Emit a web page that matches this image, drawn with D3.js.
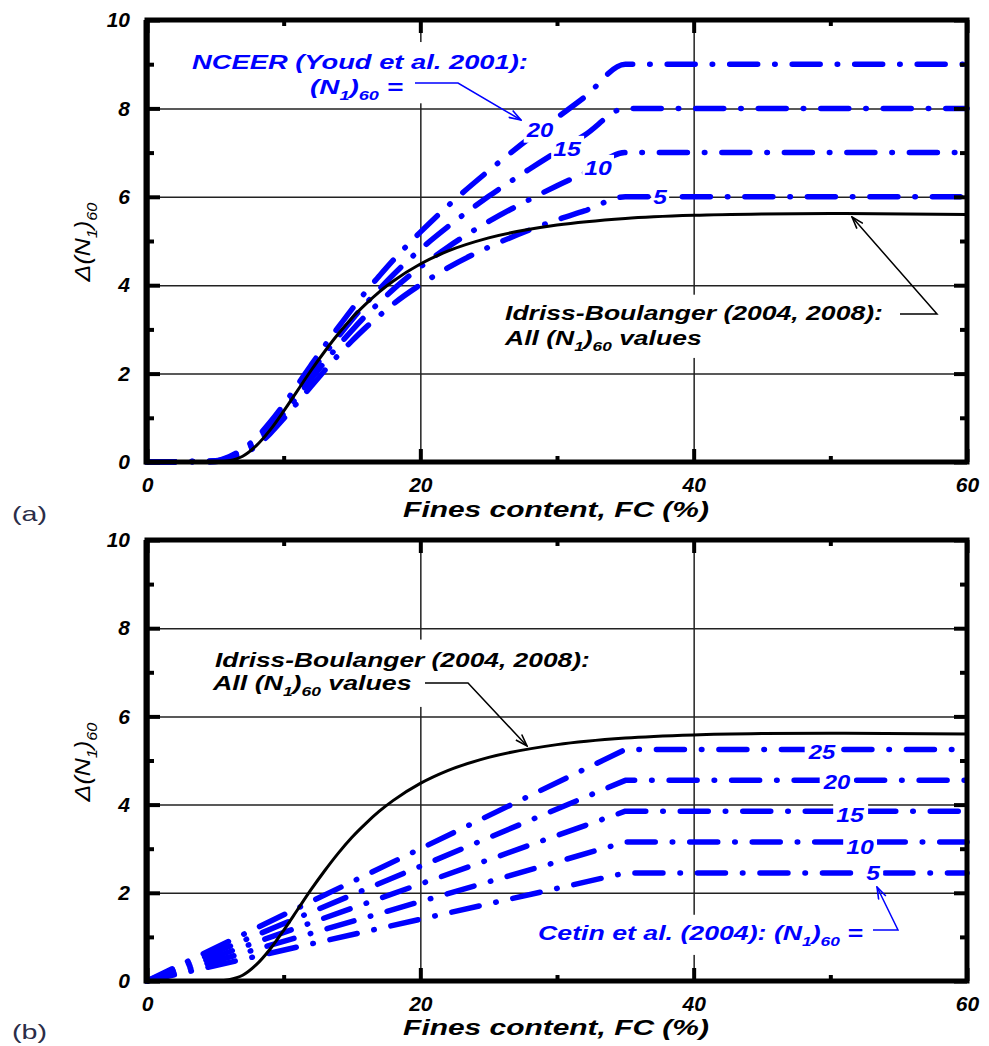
<!DOCTYPE html>
<html><head><meta charset="utf-8">
<script src="https://cdn.jsdelivr.net/npm/d3@7"></script>
<style>
body{margin:0;background:#fff;}
svg text{font-family:"Liberation Sans",Arial,sans-serif;white-space:pre;}
</style></head><body>
<svg id="c" width="989" height="1046"></svg>
<script>
// ---------------- DATA ----------------
const xTicksMajor=[0,20,40,60];
const xTicksMinor=[10,30,50];
const yTicksMajor=[0,2,4,6,8,10];
const yTicksMinor=[1,3,5,7,9];
const xGrid=[20,40];
const yGrid=[2,4,6,8];

// Idriss-Boulanger (2004, 2008), all (N1)60
const ibFC   =[0,4,5,6,7,8,9,10,11,12,13,14,15,16,17,18,20,22,25,30,35,40,45,50,60];
const ibDelta=[0,0,0.00,0.03,0.13,0.37,0.72,1.15,1.61,2.07,2.50,2.90,3.26,3.57,3.85,4.09,4.48,4.77,5.07,5.36,5.51,5.58,5.61,5.62,5.60];

// NCEER (Youd et al. 2001)
const nceerFC =[0,5,6,7,8,9,10,11,12,13,14,15,16,17,18,20,22,25,28,30,32,35,60];
const nceerN5 =[0,0.01,0.05,0.16,0.36,0.64,0.98,1.34,1.71,2.07,2.42,2.74,3.04,3.31,3.57,4.01,4.39,4.86,5.25,5.48,5.68,6,6];
const nceerN10=[0,0.01,0.08,0.21,0.43,0.73,1.09,1.47,1.87,2.26,2.63,2.98,3.31,3.61,3.90,4.41,4.86,5.44,5.94,6.25,6.54,7,7];
const nceerN15=[0,0.02,0.10,0.25,0.49,0.81,1.19,1.61,2.03,2.44,2.84,3.22,3.58,3.91,4.23,4.81,5.32,6.01,6.63,7.02,7.39,8,8];
const nceerN20=[0,0.03,0.12,0.29,0.55,0.90,1.30,1.74,2.19,2.63,3.05,3.46,3.85,4.21,4.56,5.20,5.79,6.59,7.33,7.79,8.25,9,9];
const nceerNames=["5","10","15","20"];

// Cetin et al. (2004)
const cetinFC =[0,35,60];
const cetinN5 =[0,2.45,2.45];
const cetinN10=[0,3.15,3.15];
const cetinN15=[0,3.85,3.85];
const cetinN20=[0,4.55,4.55];
const cetinN25=[0,5.25,5.25];
const cetinNames=["5","10","15","20","25"];

// ---------------- DRAWING ----------------
const svg=d3.select("#c");
const X0=147, X1=967;
const BLUE="#0000ff";
const SANS='"Liberation Sans", Arial, sans-serif';
const SERIF='"Liberation Serif", "Times New Roman", serif';

function makePanel(yTop,yBot){
  const x=d3.scaleLinear().domain([0,60]).range([X0,X1]);
  const y=d3.scaleLinear().domain([0,10]).range([yBot,yTop]);
  const g=svg.append("g");
  const L={grid:g.append("g"),data:g.append("g"),bg:g.append("g"),text:g.append("g"),frame:g.append("g")};
  const h=yBot-yTop, w=X1-X0;
  const clean=(s,sw,col)=>{s.select(".domain").remove();s.selectAll(".tick line").attr("stroke",col||"#000").attr("stroke-width",sw);};
  // grid
  L.grid.append("g").attr("transform",`translate(0,${yBot})`)
    .call(d3.axisBottom(x).tickValues(xGrid).tickSize(-h).tickFormat(""))
    .call(s=>clean(s,1.5,"#222"));
  L.grid.append("g").attr("transform",`translate(${X0},0)`)
    .call(d3.axisLeft(y).tickValues(yGrid).tickSize(-w).tickFormat(""))
    .call(s=>clean(s,1.5,"#222"));
  // frame box
  L.frame.append("rect").attr("x",X0).attr("y",yTop).attr("width",w).attr("height",h)
    .attr("fill","none").attr("stroke","#000").attr("stroke-width",5);
  L.frame.append("line").attr("x1",X0-0.5).attr("x2",X0-0.5).attr("y1",yTop).attr("y2",yBot+2.5)
    .attr("stroke","#000").attr("stroke-width",6);
  const lab=s=>s.attr("font-family",SANS).attr("font-size",21).attr("font-weight","bold").attr("font-style","italic");
  // left
  L.frame.append("g").attr("transform",`translate(${X0},0)`)
    .call(d3.axisLeft(y).tickValues(yTicksMajor).tickSize(-13).tickPadding(17).tickFormat(d3.format("d")))
    .call(s=>clean(s,4)).call(lab).selectAll("text").attr("fill","#000");
  L.frame.append("g").attr("transform",`translate(${X0},0)`)
    .call(d3.axisLeft(y).tickValues(yTicksMinor).tickSize(-7).tickFormat("")).call(s=>clean(s,4));
  // right
  L.frame.append("g").attr("transform",`translate(${X1},0)`)
    .call(d3.axisRight(y).tickValues(yTicksMajor).tickSize(-13).tickFormat("")).call(s=>clean(s,4));
  L.frame.append("g").attr("transform",`translate(${X1},0)`)
    .call(d3.axisRight(y).tickValues(yTicksMinor).tickSize(-7).tickFormat("")).call(s=>clean(s,4));
  // bottom
  L.frame.append("g").attr("transform",`translate(0,${yBot})`)
    .call(d3.axisBottom(x).tickValues(xTicksMajor).tickSize(-13).tickPadding(15).tickFormat(d3.format("d")))
    .call(s=>clean(s,4)).call(lab).selectAll("text").attr("fill","#000");
  L.frame.append("g").attr("transform",`translate(0,${yBot})`)
    .call(d3.axisBottom(x).tickValues(xTicksMinor).tickSize(-6).tickFormat("")).call(s=>clean(s,4));
  // top
  L.frame.append("g").attr("transform",`translate(0,${yTop})`)
    .call(d3.axisTop(x).tickValues(xTicksMajor).tickSize(-13).tickFormat("")).call(s=>clean(s,4));
  L.frame.append("g").attr("transform",`translate(0,${yTop})`)
    .call(d3.axisTop(x).tickValues(xTicksMinor).tickSize(-6).tickFormat("")).call(s=>clean(s,4));
  return {x,y,L,yTop,yBot};
}

// stretched text helper
function addText(layer,bgLayer,o){
  const size=o.size||21;
  const gg=layer.append("g").attr("transform",`translate(${o.x},${o.y})${o.rot?` rotate(${o.rot})`:""}`);
  const t=gg.append("text").attr("text-anchor",o.anchor||"start")
    .attr("font-family",o.family||SANS).attr("font-size",size)
    .attr("font-weight",o.weight||"bold").attr("font-style",o.style||"italic")
    .attr("fill",o.fill||"#000");
  let shift=0;
  o.parts.forEach(([s,sub])=>{
    const target=sub?size*0.3:0;
    const ts=t.append("tspan").text(s).attr("dy",target-shift);
    if(sub) ts.attr("font-size",size*0.65);
    shift=target;
  });
  if(o.w){
    const w0=t.node().getBBox().width;
    t.attr("transform",`scale(${o.w/w0},1)`);
  }
  if(o.bg){
    const p=o.pad||[4,4,4,4];
    const bb=gg.node().getBBox();
    bgLayer.append("rect").attr("x",o.x+bb.x-p[3]).attr("y",o.y+bb.y-p[0])
      .attr("width",bb.width+p[1]+p[3]).attr("height",bb.height+p[0]+p[2]).attr("fill","#fff");
  }
  return gg;
}

// markers
const defs=svg.append("defs");
[["arrK","#000"],["arrB",BLUE]].forEach(([id,c])=>{
  defs.append("marker").attr("id",id).attr("viewBox","0 0 14 10").attr("refX",13).attr("refY",5)
    .attr("markerWidth",14).attr("markerHeight",10).attr("markerUnits","userSpaceOnUse").attr("orient","auto")
    .append("path").attr("d","M1,1 L13,5 L1,9").attr("fill","none").attr("stroke",c).attr("stroke-width",1.6);
});
function leader(layer,pts,col,mk){
  layer.append("path").attr("d",d3.line()(pts)).attr("fill","none").attr("stroke",col)
    .attr("stroke-width",1.5).attr("marker-end",`url(#${mk})`);
}

const dash="28,17,0.5,17";
function drawSeries(p,fc,vals,color,width,curve,dasharray){
  const line=d3.line().x(d=>p.x(d[0])).y(d=>p.y(d[1])).curve(curve);
  const path=p.L.data.append("path").datum(fc.map((f,i)=>[f,vals[i]])).attr("d",line)
    .attr("fill","none").attr("stroke",color).attr("stroke-width",width)
    .attr("stroke-linecap","round").attr("stroke-linejoin","round");
  if(dasharray) path.attr("stroke-dasharray",dasharray);
}

const sub=(s)=>[s,true];

// ===== Panel (a) =====
const A=makePanel(20,462);
[nceerN5,nceerN10,nceerN15,nceerN20].forEach(v=>drawSeries(A,nceerFC,v,BLUE,5.5,d3.curveMonotoneX,dash));
drawSeries(A,ibFC,ibDelta,"#000",3,d3.curveMonotoneX,null);

addText(A.L.text,A.L.bg,{x:192,y:69,w:336,fill:BLUE,parts:[["NCEER (Youd et al. 2001):"]],bg:true,pad:[8,4,30,4]});
addText(A.L.text,A.L.bg,{x:310,y:94,w:93,fill:BLUE,parts:[["(N"],sub("1"),[")"],sub("60"),[" ="]]});
leader(A.L.text,[[415,83],[458,83],[521,120]],BLUE,"arrB");
const aLab=[[660,204],[598,175],[567,156],[540,137]];
nceerNames.forEach((n,i)=>addText(A.L.text,A.L.bg,{x:aLab[i][0],y:aLab[i][1],anchor:"middle",w:n.length*14,fill:BLUE,parts:[[n]],bg:true,pad:[1,2,1,2]}));

addText(A.L.text,A.L.bg,{x:505,y:320,w:378,parts:[["Idriss-Boulanger (2004, 2008):"]],bg:true,pad:[6,4,5,4]});
addText(A.L.text,A.L.bg,{x:505,y:345,w:198,parts:[["All (N"],sub("1"),[")"],sub("60"),[" values"]],bg:true,pad:[5,4,4,4]});
leader(A.L.text,[[900,314],[937,314],[852,217]],"#000","arrK");

// axis titles (a)
addText(svg,svg,{x:556,y:517,anchor:"middle",w:306,size:22,parts:[["Fines content, FC (%)"]]});
addText(svg,svg,{x:90,y:242,rot:-90,anchor:"middle",w:80,size:22,weight:"normal",parts:[["\u0394(N"],sub("1"),[")"],sub("60")]});
addText(svg,svg,{x:12,y:521,w:35,size:20,weight:"normal",style:"normal",family:SERIF,fill:"#2b2d48",parts:[["(a)"]]});

// ===== Panel (b) =====
const B=makePanel(540,981);
[cetinN5,cetinN10,cetinN15,cetinN20,cetinN25].forEach(v=>drawSeries(B,cetinFC,v,BLUE,5.5,d3.curveLinear,dash));
drawSeries(B,ibFC,ibDelta,"#000",3,d3.curveMonotoneX,null);

addText(B.L.text,B.L.bg,{x:215,y:667,w:375,parts:[["Idriss-Boulanger (2004, 2008):"]],bg:true,pad:[8,4,5,4]});
addText(B.L.text,B.L.bg,{x:213,y:690,w:200,parts:[["All (N"],sub("1"),[")"],sub("60"),[" values"]],bg:true,pad:[5,12,8,4]});
leader(B.L.text,[[425,683],[468,683],[527,746]],"#000","arrK");

const bLab=[[873,880],[860,854],[850,822],[837,789],[822,759]];
cetinNames.forEach((n,i)=>addText(B.L.text,B.L.bg,{x:bLab[i][0],y:bLab[i][1],anchor:"middle",w:n.length*14,fill:BLUE,parts:[[n]],bg:true,pad:[4,3,1,3]}));

addText(B.L.text,B.L.bg,{x:538,y:940,w:325,fill:BLUE,parts:[["Cetin et al. (2004): (N"],sub("1"),[")"],sub("60"),[" ="]],bg:true,pad:[6,4,6,4]});
leader(B.L.text,[[873,930],[898,930],[877,887]],BLUE,"arrB");

addText(svg,svg,{x:556,y:1035,anchor:"middle",w:306,size:22,parts:[["Fines content, FC (%)"]]});
addText(svg,svg,{x:90,y:762,rot:-90,anchor:"middle",w:80,size:22,weight:"normal",parts:[["\u0394(N"],sub("1"),[")"],sub("60")]});
addText(svg,svg,{x:12,y:1039,w:35,size:20,weight:"normal",style:"normal",family:SERIF,fill:"#2b2d48",parts:[["(b)"]]});
</script>
</body></html>
